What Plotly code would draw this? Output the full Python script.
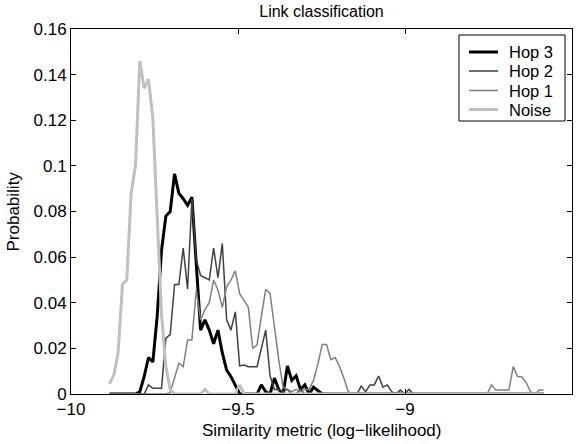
import plotly.graph_objects as go

# Histogram bins (log-likelihood), regular spacing
BIN_START = -9.885
BIN_WIDTH = 0.013
N_BINS = 101
bins = [round(BIN_START + BIN_WIDTH * k, 4) for k in range(N_BINS)]

def pad(vals, n=N_BINS):
    return vals + [0.0] * (n - len(vals))

hop3 = pad([
    0, 0, 0, 0, 0, 0, 0, 0.001, 0.0076, 0.016,
    0.014, 0.034, 0.063, 0.078, 0.080, 0.0965, 0.088, 0.0856, 0.0827, 0.0863,
    0.055, 0.028, 0.0325, 0.028, 0.022, 0.028, 0.018, 0.0105, 0.0076, 0.004,
    0, 0, 0, 0, 0, 0.004, 0.001, 0, 0.007, 0.002,
    0, 0.0123, 0.006, 0.008, 0.002, 0.004, 0, 0.003, 0.0015, 0,
])

hop2 = pad([
    0, 0, 0, 0, 0, 0, 0, 0, 0, 0.004,
    0.0025, 0.0025, 0.0025, 0.0245, 0.026, 0.048, 0.048, 0.064, 0.046, 0.0855,
    0.059, 0.052, 0.051, 0.050, 0.064, 0.051, 0.066, 0.0325, 0.028, 0.036,
    0.0123, 0.0127, 0.012, 0.012, 0.012, 0.020, 0.028, 0.008, 0.002, 0.002,
    0.001, 0.002, 0, 0, 0.002, 0, 0, 0, 0, 0,
    0, 0, 0, 0, 0, 0, 0, 0, 0.0035, 0.001,
    0.004, 0.004, 0.0079, 0.003, 0.004, 0.001, 0, 0.0017, 0, 0.002,
])

hop1 = pad([
    0, 0, 0, 0, 0, 0, 0, 0, 0, 0,
    0, 0, 0, 0, 0.0006, 0.0076, 0.0135, 0.012, 0.0237, 0.0237,
    0.0456, 0.0325, 0.037, 0.040, 0.050, 0.0456, 0.038, 0.047, 0.050, 0.054,
    0.044, 0.041, 0.038, 0.020, 0.0215, 0.034, 0.0459, 0.0441, 0.029, 0.015,
    0.003, 0.002, 0.001, 0.002, 0.001, 0.002, 0.002, 0.006, 0.013, 0.0217,
    0.0217, 0.015, 0.016, 0.012, 0.007, 0.001, 0, 0, 0, 0,
    0, 0, 0, 0, 0, 0, 0, 0, 0, 0,
    0, 0, 0, 0, 0, 0, 0, 0, 0, 0,
    0, 0, 0, 0, 0, 0, 0, 0, 0.004, 0.0017,
    0.0017, 0.0017, 0.0017, 0.012, 0.0077, 0.0075, 0.005, 0.001, 0, 0.0017,
    0.0017,
])

noise = pad([
    0.0044, 0.0083, 0.0178, 0.048, 0.050, 0.088, 0.100, 0.146, 0.134, 0.138,
    0.121, 0.075, 0.035, 0.012, 0.002, 0, 0, 0, 0, 0,
    0, 0, 0.002, 0, 0, 0, 0, 0, 0, 0,
    0.004,
])

series_names = ["Hop 3", "Hop 2", "Hop 1", "Noise"]
series_values = [hop3, hop2, hop1, noise]
series_colors = ["#000000", "#404040", "#808080", "#c0c0c0"]
series_widths = [3, 1.5, 1.5, 3]

x_ticks = [-10, -9.5, -9, -8.5]
x_tick_labels = ["\u221210", "\u22129.5", "\u22129", "\u22128.5"]
y_ticks = [0, 0.02, 0.04, 0.06, 0.08, 0.1, 0.12, 0.14, 0.16]
y_tick_labels = ["0", "0.02", "0.04", "0.06", "0.08", "0.1", "0.12", "0.14", "0.16"]

FONT = "Liberation Sans, Arial, Helvetica, sans-serif"
FS = 17

# plot-area geometry in pixels (from the reference)
L, R, T, B = 71, 572, 29, 394
W, H = 586, 444
PW, PH = R - L, B - T

def px_x(p):
    return (p - L) / PW

def px_y(p):
    return (B - p) / PH

fig = go.Figure()
for name, vals, col, w in zip(series_names, series_values, series_colors, series_widths):
    fig.add_trace(go.Scatter(
        x=bins, y=vals, mode="lines", name=name, showlegend=False,
        line=dict(color=col, width=w),
    ))

# Legend box (drawn in paper coordinates, MATLAB-style)
LEG_L, LEG_R, LEG_T, LEG_B = 459, 565, 35, 121
ROW_Y = [52, 71, 90.5, 109.5]
SAMPLE_X0, SAMPLE_X1, TEXT_X = 469, 498, 507

shapes = [dict(type="rect", xref="paper", yref="paper",
               x0=px_x(LEG_L), x1=px_x(LEG_R), y0=px_y(LEG_B), y1=px_y(LEG_T),
               line=dict(color="black", width=1), fillcolor="white", layer="above")]
annotations = []
for name, col, w, ry in zip(series_names, series_colors, series_widths, ROW_Y):
    shapes.append(dict(type="line", xref="paper", yref="paper",
                       x0=px_x(SAMPLE_X0), x1=px_x(SAMPLE_X1),
                       y0=px_y(ry), y1=px_y(ry),
                       line=dict(color=col, width=w), layer="above"))
    annotations.append(dict(text=name, xref="paper", yref="paper",
                            x=px_x(TEXT_X), y=px_y(ry), xanchor="left", yanchor="middle",
                            showarrow=False,
                            font=dict(size=FS - 0.5, family=FONT, color="black")))

annotations += [
    dict(text="Similarity metric (log\u2212likelihood)", xref="paper", yref="paper",
         x=0.5, y=px_y(430), xanchor="center", yanchor="middle",
         showarrow=False, font=dict(size=FS, family=FONT, color="black")),
    dict(text="Probability", xref="paper", yref="paper",
         x=px_x(13), y=0.5, xanchor="center", yanchor="middle",
         textangle=-90, showarrow=False,
         font=dict(size=FS, family=FONT, color="black")),
]

fig.update_layout(
    width=W, height=H,
    margin=dict(l=L, r=W - R, t=T, b=H - B, autoexpand=False),
    paper_bgcolor="white", plot_bgcolor="white",
    font=dict(family=FONT, size=FS, color="black"),
    title=dict(text="Link classification", x=(L + PW / 2) / W, xref="container",
               xanchor="center", y=1 - 11 / H, yref="container", yanchor="middle",
               font=dict(size=FS - 1, family=FONT, color="black")),
    showlegend=False,
    shapes=shapes,
    annotations=annotations,
)

fig.update_xaxes(
    range=[-10, -8.5], tickvals=x_ticks, ticktext=x_tick_labels,
    showline=True, linecolor="black", linewidth=1, mirror="ticks",
    ticks="inside", ticklen=5, tickcolor="black",
    showgrid=False, zeroline=False, automargin=False,
    tickfont=dict(size=FS, family=FONT),
)
fig.update_yaxes(
    range=[0, 0.16], tickvals=y_ticks, ticktext=y_tick_labels,
    showline=True, linecolor="black", linewidth=1, mirror="ticks",
    ticks="inside", ticklen=5, tickcolor="black",
    showgrid=False, zeroline=False, automargin=False,
    tickfont=dict(size=FS, family=FONT),
)

fig.write_html(
    "out.html",
    config={"displayModeBar": False, "staticPlot": True},
    post_script="document.body.style.margin='0';document.body.style.overflow='hidden';",
)
